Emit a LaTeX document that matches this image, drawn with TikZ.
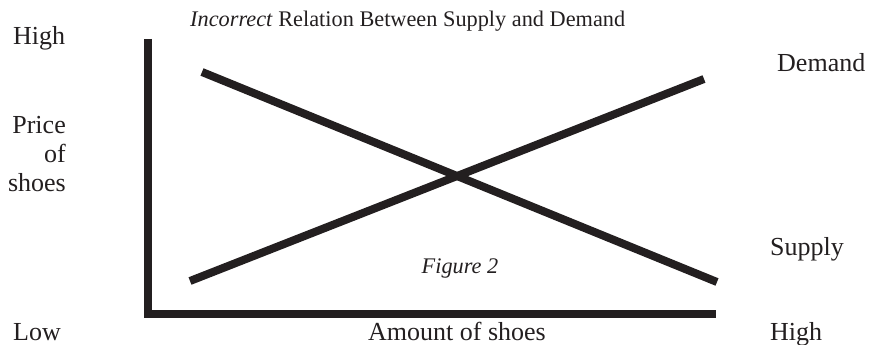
\documentclass[tikz,border=0pt]{standalone}
\usepackage{fontspec}
\setmainfont{Liberation Serif}
\usepackage{tikz}
\usetikzlibrary{positioning}
\definecolor{inkBlack}{HTML}{231F20}

\begin{document}
\begin{tikzpicture}[x=1pt, y=-1pt,
                    axline/.style={draw=inkBlack, line width=8pt, miter limit=10},
                    curve/.style={draw=inkBlack, line width=8pt},
                    lbl/.style={font=\fontsize{26}{29}\selectfont, text=inkBlack, inner sep=0pt},
                    ttl/.style={font=\fontsize{22.3}{26}\selectfont, text=inkBlack, inner sep=0pt}
                ]
                    \useasboundingbox (0,0) rectangle (870,345);
                    % axes
                    \coordinate (ytop) at (147.5,39);
                    \coordinate (orig) at (147.5,314);
                    \coordinate (xend) at (716,314);
                    \draw[axline] (ytop) -- (orig) -- (xend);
                    % the two lines
                    \coordinate (d1) at (190,281);
                    \coordinate (d2) at (704,79);
                    \coordinate (s1) at (202,72);
                    \coordinate (s2) at (717,282);
                    \draw[curve] (d1) -- (d2);
                    \draw[curve] (s1) -- (s2);
                    % labels
                    \node[ttl, anchor=base west] (title) at (190,27) {\textit{Incorrect} Relation Between Supply and Demand};
                    \node[lbl, anchor=base west] (yhigh) at (13,45) {High};
                    \node[lbl, anchor=north east, align=right] (price) at (66,116) {Price\\of\\shoes};
                    \node[lbl, anchor=base west] (ylow) at (13,340) {Low};
                    \node[lbl, anchor=base] (xlbl) at (457,340) {Amount of shoes};
                    \node[lbl, anchor=base west] (xhigh) at (770,340) {High};
                    \node[lbl, anchor=base west] (dem) at (777,72) {Demand};
                    \node[lbl, anchor=base west] (sup) at (770,255) {Supply};
                    \node[ttl, anchor=base] (fig) at (460,273) {\textit{Figure 2}};
                \end{tikzpicture}
\end{document}
